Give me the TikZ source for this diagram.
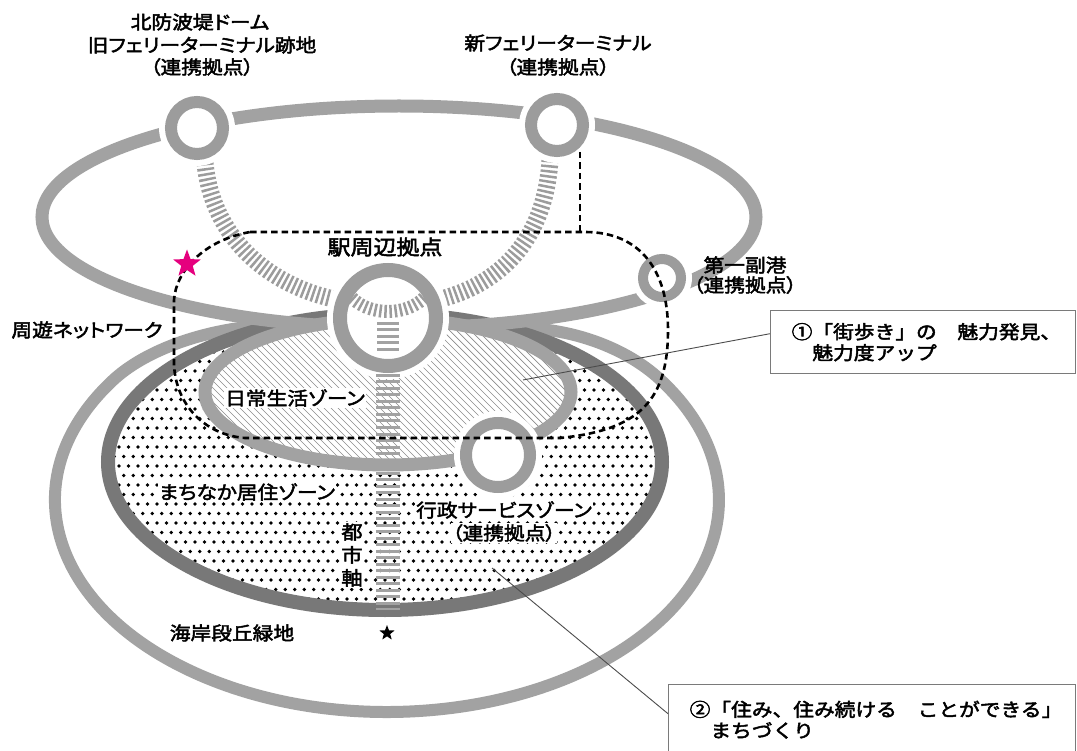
\documentclass[tikz,border=0pt]{standalone}
\usepackage{fontspec}
\newfontfamily\jp[FakeStretch=1.12,FakeBold=2.5,RawFeature={+palt}]{Noto Sans CJK JP}
\newfontfamily\jpw[FakeStretch=1.12,FakeBold=2.5]{Noto Sans CJK JP}
\usetikzlibrary{shapes.geometric}
\definecolor{ringL}{HTML}{A2A2A2}
\definecolor{ringD}{HTML}{787878}
\definecolor{ladG}{HTML}{9C9C9C}
\definecolor{hatchG}{HTML}{8C8C8C}
\definecolor{boxG}{HTML}{7A7A7A}
\definecolor{starP}{HTML}{E5007E}
\begin{document}
\begin{tikzpicture}[x=1pt,y=-1pt,
  lring/.style={draw=ringL,line width=13},
  dring/.style={draw=ringD,line width=14},
  ladder/.style={draw=ladG,line width=17,dash pattern=on 2.5pt off 2.6pt},
  vladder/.style={draw=ringL,line width=24,dash pattern=on 3pt off 3.5pt},
  hub/.style={circle,draw=ladG,inner sep=0},
  halo/.style={fill=white},
  zone/.style={draw=black,line width=2.6,dash pattern=on 6.5pt off 4pt},
  lbl/.style={font=\jp\fontsize{18.5}{23}\selectfont,inner sep=1,align=center},
  wlbl/.style={lbl,fill=white},
  lead/.style={draw=black!70,line width=0.9},
  callout/.style={draw=boxG,line width=1.4,anchor=north west,align=left,font=\jpw\fontsize{18.5}{21}\selectfont,inner xsep=21,inner ysep=0},
  starmark/.style={star,star points=5,star point ratio=2.4,inner sep=0}
]
\useasboundingbox (0,0) rectangle (1077,751);
\fill[white] (0,0) rectangle (1077,751);

% outer ring (coastal terrace green)
\draw[lring,line width=12] (258,326) .. controls (205,330) and (148,349) .. (115,378.4)
  arc[start angle=215,end angle=-35,x radius=332,y radius=212]
  .. controls (629,351) and (580,330) .. (525,328);

% dotted residential zone
\begin{scope}
\clip (385,462) ellipse [x radius=277,y radius=148];
\foreach \r in {0,...,31}{
  \pgfmathsetmacro\yy{314+\r*9.5}
  \pgfmathsetmacro\off{mod(\r,2)*4.75}
  \foreach \c in {0,...,60}{
    \fill ({100+\c*9.5+\off},\yy) circle (1.9);
  }
}
\end{scope}
\draw[dring] (385,462) ellipse [x radius=277,y radius=148];

% top network ring
\draw[lring] (399,217) ellipse [x radius=357,y radius=111];

% daily life zone
\fill[white] (388,392) ellipse [x radius=183,y radius=73];
\begin{scope}
\clip (388,392) ellipse [x radius=183,y radius=73];
\foreach \s in {30,37,...,600} \draw[hatchG,line width=0.7] (\s,310) -- ++(170,170);
\end{scope}
\draw[lring] (388,392) ellipse [x radius=183,y radius=73];

% ladders
\draw[ladder] (205,163) .. controls (212,235) and (265,285) .. (338,300);
\draw[ladder] (550,160) .. controls (545,240) and (500,285) .. (437,300);

% hubs
\fill[halo] (197,128) circle (38);
\node[hub,line width=12,minimum size=52] (c1) at (197,128) {};
\fill[halo] (557,125) circle (38);
\node[hub,line width=12,minimum size=52] (c2) at (557,125) {};
\fill[halo] (388,318) circle (61);
\node[hub,line width=14,minimum size=96] (st) at (388,318) {};
\fill[halo] (662,278) circle (30);
\node[hub,line width=10,minimum size=38] (c3) at (662,278) {};
\fill[halo] (498,455) circle (44);
\node[hub,line width=12,minimum size=64] (c4) at (498,455) {};

% inside station
\draw[ladder,line width=13] (352,298) .. controls (370,316) and (406,316) .. (424,298);
\draw[vladder,line width=22] (388,322) -- (388,352);
\draw[vladder] (388,374) -- (388,610);

% station zone dashed outline
\draw[zone] (250,232) -- (585,232) .. controls (640,232) and (668,270) .. (668,330)
  .. controls (668,400) and (640,430) .. (560,438) -- (245,438)
  .. controls (205,435) and (176,405) .. (174,365) -- (174,300)
  .. controls (176,270) and (205,240) .. (250,232) -- cycle;
\coordinate (v1) at (580,152);
\coordinate (v2) at (580,232);
\draw[zone] (v1) -- (v2);

% labels
\node[lbl] (nb1) at (200,22) {北防波堤ドーム};
\node[lbl] (nb2) at (202,45) {旧フェリーターミナル跡地};
\node[lbl] (nb3) at (202,67) {（連携拠点）};
\node[lbl] (nf1) at (558,43) {新フェリーターミナル};
\node[lbl] (nf2) at (558,67) {（連携拠点）};
\node[lbl,font=\jp\fontsize{20.5}{24}\selectfont] (nst) at (385,247) {駅周辺拠点};
\node[lbl] (nd1) at (745,265) {第一副港};
\node[lbl] (nd2) at (745,285) {（連携拠点）};
\node[lbl] (nnet) at (87,330) {周遊ネットワーク};
\node[wlbl] (nday) at (295,398) {日常生活ゾーン};
\node[wlbl] (nmachi) at (247,492) {まちなか居住ゾーン};
\node[wlbl] (ngyo) at (504,510) {行政サービスゾーン};
\node[wlbl] (ngyo2) at (504,533) {（連携拠点）};
\node[wlbl,font=\jp\fontsize{19}{23}\selectfont] (ntoshi) at (352,555) {都\\市\\軸};
\node[lbl] (nkai) at (232,633) {海岸段丘緑地};

\node[starmark,fill=starP,minimum size=29] (pstar) at (187,264) {};
\node[starmark,fill=black,minimum size=16] (bstar) at (387,633) {};

% callouts
\node[callout,minimum width=305,minimum height=63,text width=263] (cb1) at (770,310) {①「街歩き」の　魅力発見、\\　魅力度アップ};
\node[callout,minimum width=407,minimum height=70,text width=365] (cb2) at (668,684) {②「住み、住み続ける　ことができる」\\　まちづくり};
\coordinate (p1) at (523,380);
\coordinate (p2) at (492,568);
\draw[lead] (p1) -- ([yshift=8.5pt]cb1.west);
\draw[lead] (p2) -- ([yshift=6pt]cb2.west);
\end{tikzpicture}
\end{document}
